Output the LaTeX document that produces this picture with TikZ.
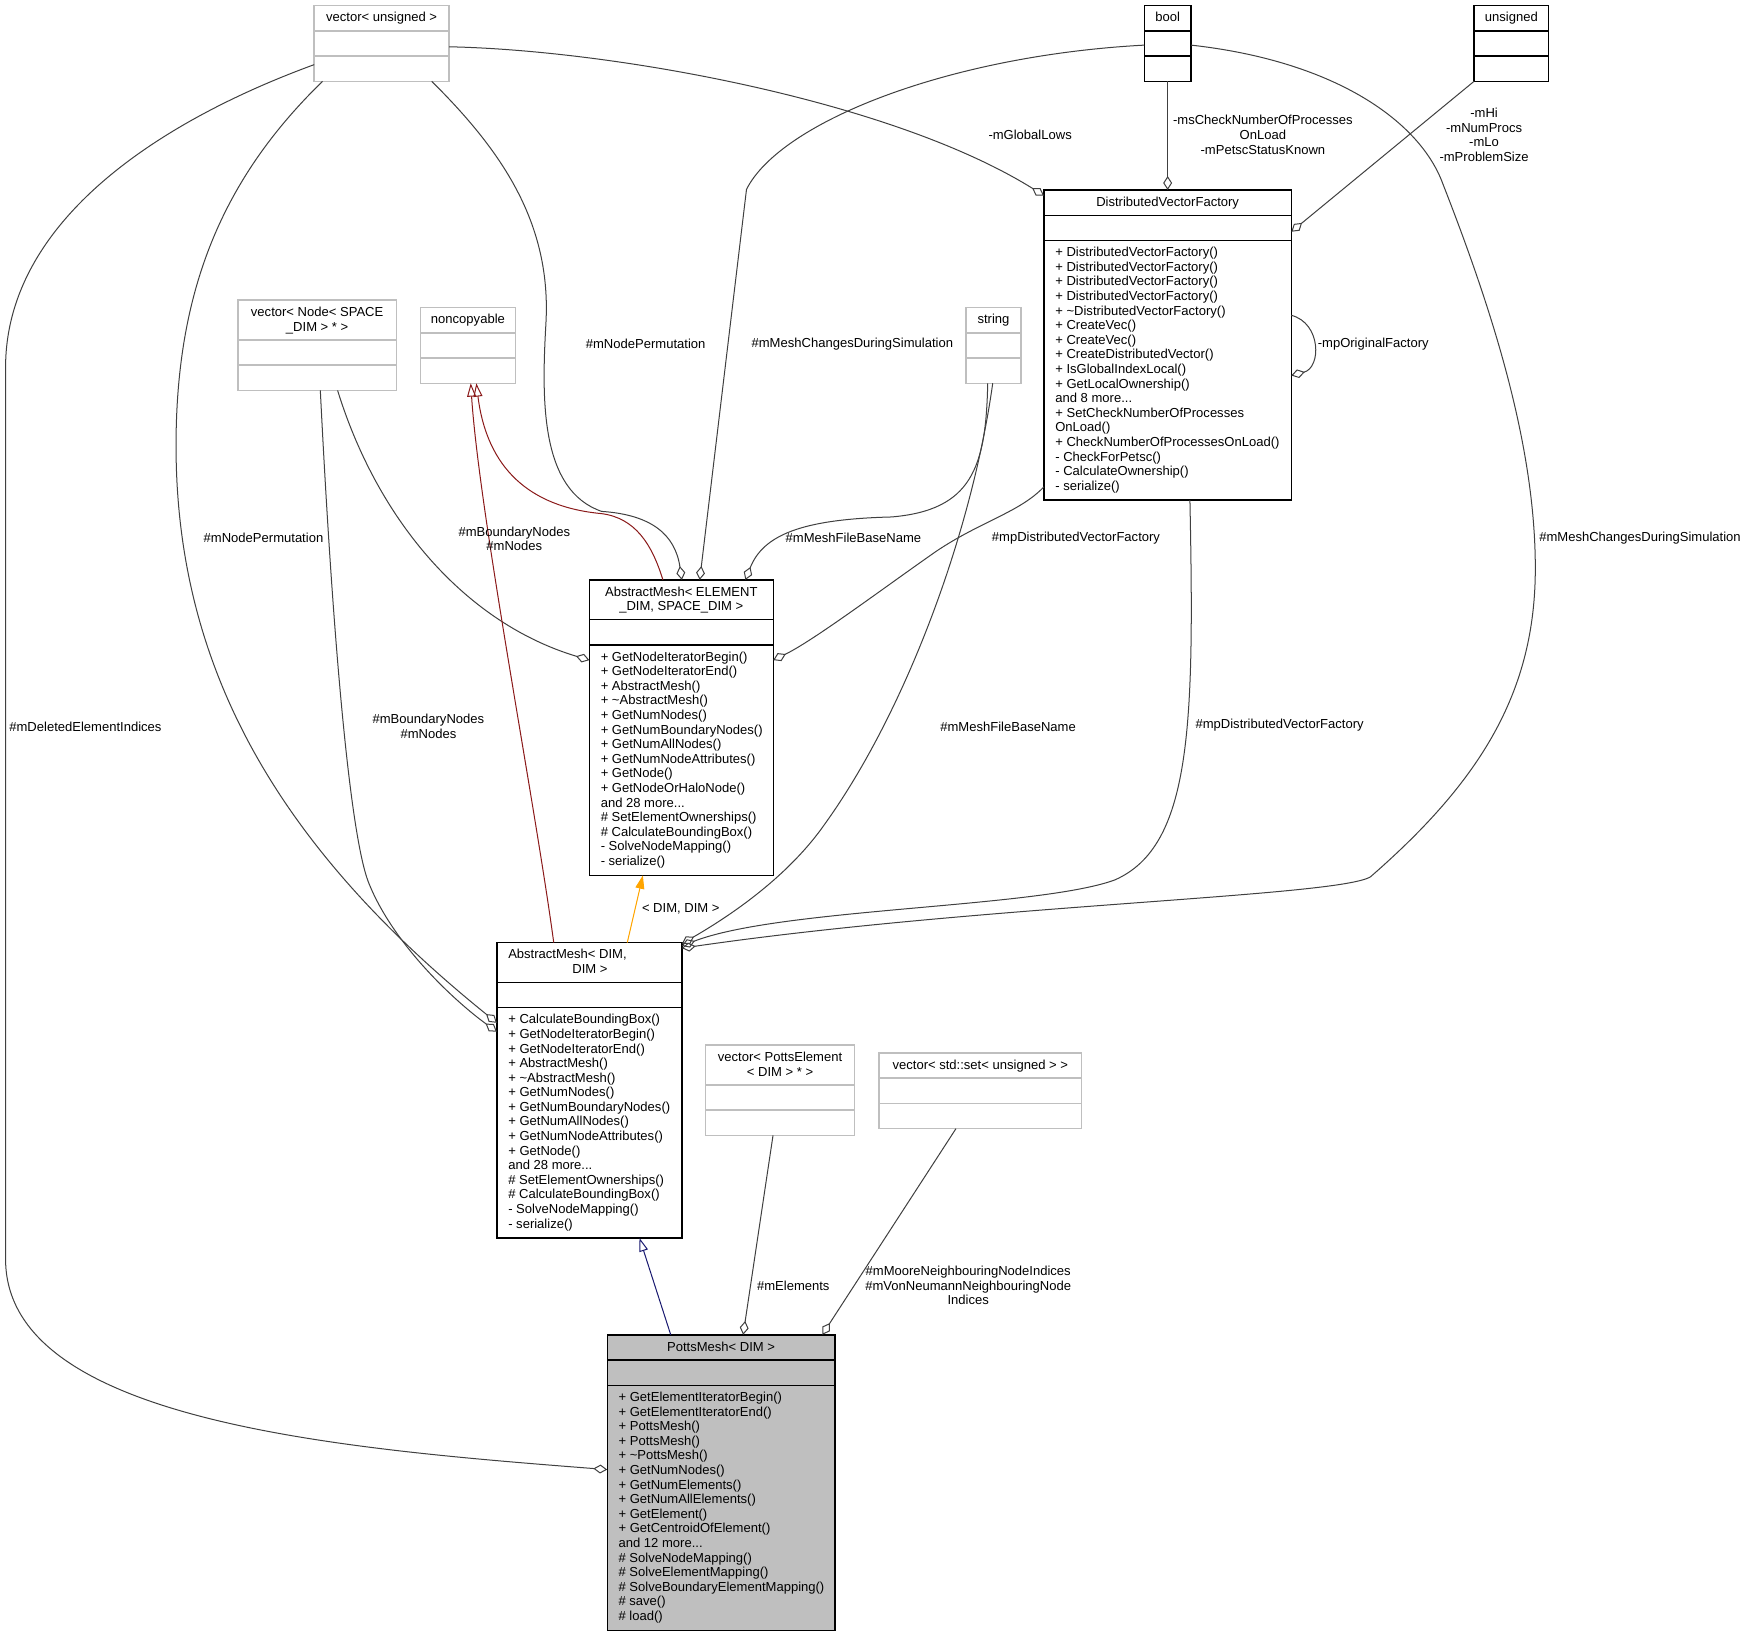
\documentclass[tikz,border=0pt]{standalone}
\usepackage{fontspec}
\setmainfont{Liberation Sans}
\usetikzlibrary{arrows.meta, calc}
\definecolor{edgeGray}{HTML}{404040}
\definecolor{boxGray}{HTML}{BFBFBF}
\definecolor{inhRed}{HTML}{8B1A1A}
\definecolor{pubBlue}{HTML}{191970}
\definecolor{tplOrange}{HTML}{FFA500}
\newcommand{\dxfont}{\fontsize{11.7}{13.1}\selectfont}
\newcommand{\dxstrut}{\rule{0pt}{9pt}}

\begin{document}
\begin{tikzpicture}[x=1pt, y=-1pt,
    cls/.style={rectangle, draw=black, line width=1.3pt, fill=white, anchor=north west,
                inner sep=0pt, outer sep=0pt},
    ext/.style={cls, draw=boxGray},
    cur/.style={cls, fill=boxGray},
    sepk/.style={draw=black, line width=1.3pt},
    sepg/.style={draw=boxGray, line width=1.3pt},
    ttl/.style={font=\dxfont, align=center, anchor=north, inner sep=0pt},
    mth/.style={font=\dxfont, align=left, anchor=north west, inner sep=0pt},
    lbl/.style={font=\dxfont, align=center, inner sep=0pt},
    agg/.style={draw=edgeGray, line width=0.9pt, -{Diamond[open, length=12.5pt, width=8pt]}},
    inh/.style={draw=inhRed, line width=0.9pt, -{Triangle[open, length=12pt, width=8pt]}},
    pub/.style={draw=pubBlue, line width=0.9pt, -{Triangle[open, length=12pt, width=8pt]}},
    tpl/.style={draw=tplOrange, fill=tplOrange, line width=0.9pt, -{Triangle[length=12pt, width=8pt]}},
  ]
  \fill[white] (0,0) rectangle (1568,1469);
  \useasboundingbox (0,0) rectangle (1568,1469);

  % top row
  \node[ext, minimum width=121pt, minimum height=68pt] (vecuns) at (282,5) {};
  \draw[sepg] ([yshift=-22.7pt]vecuns.north west) -- ([yshift=-22.7pt]vecuns.north east);
  \draw[sepg] ([yshift=-45.4pt]vecuns.north west) -- ([yshift=-45.4pt]vecuns.north east);
  \node[ttl] (vecuns-t) at ([yshift=-5.5pt]vecuns.north) {\dxstrut vector< unsigned >};

  \node[cls, minimum width=42pt, minimum height=68pt] (boolt) at (1027,5) {};
  \draw[sepk] ([yshift=-22.7pt]boolt.north west) -- ([yshift=-22.7pt]boolt.north east);
  \draw[sepk] ([yshift=-45.4pt]boolt.north west) -- ([yshift=-45.4pt]boolt.north east);
  \node[ttl] (boolt-t) at ([yshift=-5.5pt]boolt.north) {\dxstrut bool};

  \node[cls, minimum width=67pt, minimum height=68pt] (unst) at (1323,5) {};
  \draw[sepk] ([yshift=-22.7pt]unst.north west) -- ([yshift=-22.7pt]unst.north east);
  \draw[sepk] ([yshift=-45.4pt]unst.north west) -- ([yshift=-45.4pt]unst.north east);
  \node[ttl] (unst-t) at ([yshift=-5.5pt]unst.north) {\dxstrut unsigned};

  % DistributedVectorFactory
  \node[cls, minimum width=222pt, minimum height=278.4pt] (dvf) at (937,170.5) {};
  \draw[sepk] ([yshift=-22.7pt]dvf.north west) -- ([yshift=-22.7pt]dvf.north east);
  \draw[sepk] ([yshift=-45.4pt]dvf.north west) -- ([yshift=-45.4pt]dvf.north east);
  \node[ttl] (dvf-t) at ([yshift=-5.5pt]dvf.north) {\dxstrut DistributedVectorFactory};
  \node[mth] (dvf-m) at ([shift={(10pt,-50.7pt)}]dvf.north west) {\dxstrut + DistributedVectorFactory()\\
    + DistributedVectorFactory()\\+ DistributedVectorFactory()\\+ DistributedVectorFactory()\\
    + \textasciitilde DistributedVectorFactory()\\+ CreateVec()\\+ CreateVec()\\
    + CreateDistributedVector()\\+ IsGlobalIndexLocal()\\+ GetLocalOwnership()\\and 8 more...\\
    + SetCheckNumberOfProcesses\\OnLoad()\\+ CheckNumberOfProcessesOnLoad()\\- CheckForPetsc()\\
    - CalculateOwnership()\\- serialize()};

  % middle row
  \node[ext, minimum width=142.3pt, minimum height=81.1pt] (vecnode) at (213.5,269.3) {};
  \draw[sepg] ([yshift=-35.7pt]vecnode.north west) -- ([yshift=-35.7pt]vecnode.north east);
  \draw[sepg] ([yshift=-58.4pt]vecnode.north west) -- ([yshift=-58.4pt]vecnode.north east);
  \node[ttl] (vecnode-t) at ([yshift=-5.5pt]vecnode.north) {\dxstrut vector< Node< SPACE\\\_DIM > * >};

  \node[ext, minimum width=85pt, minimum height=68pt] (noncp) at (377.5,276) {};
  \draw[sepg] ([yshift=-22.7pt]noncp.north west) -- ([yshift=-22.7pt]noncp.north east);
  \draw[sepg] ([yshift=-45.4pt]noncp.north west) -- ([yshift=-45.4pt]noncp.north east);
  \node[ttl] (noncp-t) at ([yshift=-5.5pt]noncp.north) {\dxstrut noncopyable};

  \node[ext, minimum width=49.4pt, minimum height=68pt] (strt) at (867,276) {};
  \draw[sepg] ([yshift=-22.7pt]strt.north west) -- ([yshift=-22.7pt]strt.north east);
  \draw[sepg] ([yshift=-45.4pt]strt.north west) -- ([yshift=-45.4pt]strt.north east);
  \node[ttl] (strt-t) at ([yshift=-5.5pt]strt.north) {\dxstrut string};

  % AbstractMesh< ELEMENT_DIM, SPACE_DIM >
  \node[cls, minimum width=165pt, minimum height=265.2pt] (amesh) at (529,520.5) {};
  \draw[sepk] ([yshift=-35.7pt]amesh.north west) -- ([yshift=-35.7pt]amesh.north east);
  \draw[sepk] ([yshift=-58.4pt]amesh.north west) -- ([yshift=-58.4pt]amesh.north east);
  \node[ttl] (amesh-t) at ([yshift=-5.5pt]amesh.north) {\dxstrut AbstractMesh< ELEMENT\\\_DIM, SPACE\_DIM >};
  \node[mth] (amesh-m) at ([shift={(10pt,-63.7pt)}]amesh.north west) {\dxstrut + GetNodeIteratorBegin()\\
    + GetNodeIteratorEnd()\\+ AbstractMesh()\\+ \textasciitilde AbstractMesh()\\+ GetNumNodes()\\
    + GetNumBoundaryNodes()\\+ GetNumAllNodes()\\+ GetNumNodeAttributes()\\+ GetNode()\\
    + GetNodeOrHaloNode()\\and 28 more...\\\# SetElementOwnerships()\\\# CalculateBoundingBox()\\
    - SolveNodeMapping()\\- serialize()};

  % AbstractMesh< DIM, DIM >
  \node[cls, minimum width=166pt, minimum height=265.2pt] (amdim) at (446,846) {};
  \draw[sepk] ([yshift=-35.7pt]amdim.north west) -- ([yshift=-35.7pt]amdim.north east);
  \draw[sepk] ([yshift=-58.4pt]amdim.north west) -- ([yshift=-58.4pt]amdim.north east);
  \node[mth] (amdim-t) at ([shift={(10pt,-5.5pt)}]amdim.north west) {\dxstrut AbstractMesh< DIM,\\\hspace*{57.6pt}DIM >};
  \node[mth] (amdim-m) at ([shift={(10pt,-63.7pt)}]amdim.north west) {\dxstrut + CalculateBoundingBox()\\
    + GetNodeIteratorBegin()\\+ GetNodeIteratorEnd()\\+ AbstractMesh()\\+ \textasciitilde AbstractMesh()\\
    + GetNumNodes()\\+ GetNumBoundaryNodes()\\+ GetNumAllNodes()\\+ GetNumNodeAttributes()\\
    + GetNode()\\and 28 more...\\\# SetElementOwnerships()\\\# CalculateBoundingBox()\\
    - SolveNodeMapping()\\- serialize()};

  % element containers
  \node[ext, minimum width=133.7pt, minimum height=81.1pt] (vecpe) at (633.3,938) {};
  \draw[sepg] ([yshift=-35.7pt]vecpe.north west) -- ([yshift=-35.7pt]vecpe.north east);
  \draw[sepg] ([yshift=-58.4pt]vecpe.north west) -- ([yshift=-58.4pt]vecpe.north east);
  \node[ttl] (vecpe-t) at ([yshift=-5.5pt]vecpe.north) {\dxstrut vector< PottsElement\\< DIM > * >};

  \node[ext, minimum width=181.7pt, minimum height=68pt] (vecset) at (789,945) {};
  \draw[sepg] ([yshift=-22.7pt]vecset.north west) -- ([yshift=-22.7pt]vecset.north east);
  \draw[sepg] ([yshift=-45.4pt]vecset.north west) -- ([yshift=-45.4pt]vecset.north east);
  \node[ttl] (vecset-t) at ([yshift=-5.5pt]vecset.north) {\dxstrut vector< std::set< unsigned > >};

  % PottsMesh< DIM >
  \node[cur, minimum width=204.3pt, minimum height=265.3pt] (potts) at (545,1198) {};
  \draw[sepk] ([yshift=-22.7pt]potts.north west) -- ([yshift=-22.7pt]potts.north east);
  \draw[sepk] ([yshift=-45.4pt]potts.north west) -- ([yshift=-45.4pt]potts.north east);
  \node[ttl] (potts-t) at ([yshift=-5.5pt]potts.north) {\dxstrut PottsMesh< DIM >};
  \node[mth] (potts-m) at ([shift={(10pt,-50.7pt)}]potts.north west) {\dxstrut + GetElementIteratorBegin()\\
    + GetElementIteratorEnd()\\+ PottsMesh()\\+ PottsMesh()\\+ \textasciitilde PottsMesh()\\
    + GetNumNodes()\\+ GetNumElements()\\+ GetNumAllElements()\\+ GetElement()\\
    + GetCentroidOfElement()\\and 12 more...\\\# SolveNodeMapping()\\\# SolveElementMapping()\\
    \# SolveBoundaryElementMapping()\\\# save()\\\# load()};

  % members
  \draw[agg] ($(vecuns.north west)+(0,53)$) .. controls (140,110) and (5,200) .. (5,330)
    -- (5,1130) .. controls (5,1275) and (300,1300) .. ($(potts.north west)+(0,121)$);
  \draw[agg] ($(vecuns.south west)+(7.5,0)$) .. controls (200,160) and (158,260) .. (158,400)
    .. controls (158,600) and (250,760) .. ($(amdim.north west)+(0,72)$);
  \draw[agg] ($(vecnode.south west)+(74,0)$) .. controls (300,600) and (316,760) .. (332,795)
    .. controls (355,850) and (410,900) .. ($(amdim.north west)+(0,80)$);
  \draw[agg] ($(vecnode.south west)+(89.5,0)$) .. controls (340,470) and (420,560) .. ($(amesh.north west)+(0,72)$);
  \draw[agg] ($(vecuns.south west)+(105.5,0)$) .. controls (450,135) and (495,200) .. (490,290)
    .. controls (486,360) and (485,440) .. (540,459) .. controls (585,462) and (606,480) .. ($(amesh.north west)+(83,0)$);
  \draw[agg] ($(boolt.north west)+(0,35.5)$) .. controls (850,50) and (700,110) .. (670,170)
    -- ($(amesh.north west)+(99,0)$);
  \draw[agg] ($(strt.south west)+(19.5,0)$) .. controls (885,420) and (872,458) .. (800,464)
    .. controls (720,466) and (685,480) .. ($(amesh.north west)+(140,0)$);
  \draw[agg] ($(dvf.south west)+(0,-12)$) .. controls (915,460) and (880,468) .. (840,495)
    .. controls (790,530) and (730,575) .. ($(amesh.north east)+(0,72)$);
  \draw[agg] ($(vecuns.north east)+(0,37)$) .. controls (550,45) and (800,90) .. ($(dvf.north west)+(0,5)$);
  \draw[agg] (boolt.south) -- (boolt.south |- dvf.north);
  \draw[agg] (unst.south west) -- ($(dvf.north east)+(0,37.5)$);
  \draw[agg] ($(dvf.north east)+(0,112.5)$) .. controls (1186,290) and (1186,330) .. ($(dvf.north east)+(0,166.5)$);
  \draw[agg] ($(strt.south west)+(24,0)$) .. controls (872,480) and (812,640) .. (740,740)
    .. controls (705,790) and (650,825) .. ($(amdim.north east)+(0,1)$);
  \draw[agg] ($(dvf.south west)+(131,0)$) .. controls (1072,650) and (1070,760) .. (1000,790)
    .. controls (930,815) and (700,815) .. ($(amdim.north east)+(0,3)$);
  \draw[agg] ($(boolt.north east)+(0,35.5)$) .. controls (1200,55) and (1275,110) .. (1295,165)
    .. controls (1340,280) and (1378,400) .. (1378,510) .. controls (1378,620) and (1330,700) .. (1230,787)
    .. controls (1200,805) and (880,812) .. ($(amdim.north east)+(0,5)$);
  \draw[agg] ($(vecpe.south west)+(60.5,0)$) -- ($(potts.north west)+(122,0)$);
  \draw[agg] ($(vecset.south west)+(69,0)$) -- ($(potts.north west)+(193,0)$);

  % inheritance
  \draw[inh] ($(amesh.north west)+(66,0)$) .. controls (585,488) and (570,465) .. (540,461)
    .. controls (475,455) and (437,420) .. ($(noncp.south west)+(50,0)$);
  \draw[inh] ($(amdim.north west)+(51,0)$) .. controls (480,720) and (430,460) .. ($(noncp.south west)+(45,0)$);
  \draw[pub] ($(potts.north west)+(57,0)$) -- ($(amdim.south west)+(128,0)$);
  \draw[tpl] ($(amdim.north west)+(117,0)$) -- ($(amesh.south west)+(48,0)$);

  % edge labels
  \node[lbl] (lb-del) at (76.7,652) {\#mDeletedElementIndices};
  \node[lbl] (lb-perm1) at (236.5,483) {\#mNodePermutation};
  \node[lbl] (lb-bnd1) at (384.5,652) {\#mBoundaryNodes\\\#mNodes};
  \node[lbl] (lb-bnd2) at (461.6,483.6) {\#mBoundaryNodes\\\#mNodes};
  \node[lbl] (lb-perm2) at (579.5,309) {\#mNodePermutation};
  \node[lbl] (lb-chg1) at (765,309) {\#mMeshChangesDuringSimulation};
  \node[lbl] (lb-lows) at (924.6,120.6) {-mGlobalLows};
  \node[lbl] (lb-check) at (1133.5,121) {-msCheckNumberOfProcesses\\OnLoad\\-mPetscStatusKnown};
  \node[lbl] (lb-hilo) at (1332,121) {-mHi\\-mNumProcs\\-mLo\\-mProblemSize};
  \node[lbl] (lb-orig) at (1232.5,309) {-mpOriginalFactory};
  \node[lbl] (lb-file1) at (766,483) {\#mMeshFileBaseName};
  \node[lbl] (lb-dvf1) at (965.7,483) {\#mpDistributedVectorFactory};
  \node[lbl] (lb-chg2) at (1472,483) {\#mMeshChangesDuringSimulation};
  \node[lbl] (lb-file2) at (904.8,652) {\#mMeshFileBaseName};
  \node[lbl] (lb-dvf2) at (1148.5,651) {\#mpDistributedVectorFactory};
  \node[lbl] (lb-tpl) at (611,816) {< DIM, DIM >};
  \node[lbl] (lb-elem) at (712,1154) {\#mElements};
  \node[lbl] (lb-nbr) at (869,1153.7) {\#mMooreNeighbouringNodeIndices\\\#mVonNeumannNeighbouringNode\\Indices};
\end{tikzpicture}
\end{document}
